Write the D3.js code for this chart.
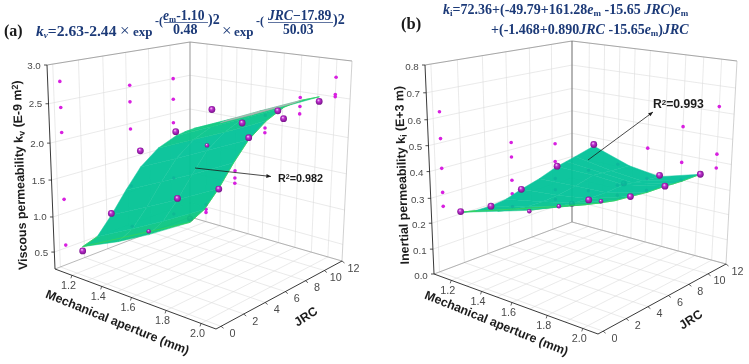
<!DOCTYPE html>
<html>
<head>
<meta charset="utf-8">
<script src="https://cdn.jsdelivr.net/npm/d3@7"></script>
<style>
  html, body { margin: 0; padding: 0; background: #fff; }
  svg { display: block; filter: blur(0.35px); }
  text { font-family: "Liberation Sans", Arial, sans-serif; }
  .serif { font-family: "Liberation Serif", "Times New Roman", serif; font-weight: bold; fill: #1c3a78; }
</style>
</head>
<body>
<div id="chart"></div>
<script>
// measured points: one row per aperture, one column per JRC
const emValues = [1.2, 1.4, 1.6, 1.8, 2.0];
const jrcValues = [0.5, 6.3, 10.3];
const kvValues = [
  [0.54, 0.46, 0.41],
  [1.19, 1.08, 1.00],
  [2.10, 1.92, 1.85],
  [2.42, 2.30, 2.20],
  [2.76, 2.53, 2.50]
];
const kiValues = [
  [0.253, 0.161, 0.130],
  [0.309, 0.215, 0.172],
  [0.400, 0.274, 0.222],
  [0.516, 0.370, 0.300],
  [0.620, 0.430, 0.375]
];

// fitted surfaces
const surfaceEm = [1.2, 1.3, 1.4, 1.5, 1.6, 1.7, 1.8, 1.85, 1.9, 2.0];
const surfaceJrc = [0.5, 3.5, 6.3, 10.3];
const kvSurface = [
  [0.60, 0.48, 0.41, 0.35],
  [0.81, 0.74, 0.68, 0.62],
  [1.17, 1.11, 1.06, 1.01],
  [1.55, 1.51, 1.47, 1.44],
  [1.90, 1.87, 1.85, 1.82],
  [2.18, 2.16, 2.14, 2.13],
  [2.37, 2.36, 2.35, 2.35],
  [2.44, 2.43, 2.42, 2.42],
  [2.50, 2.49, 2.49, 2.48],
  [2.57, 2.56, 2.56, 2.56]
];
const kiSurface = [
  [0.250, 0.205, 0.165, 0.122],
  [0.275, 0.230, 0.190, 0.142],
  [0.310, 0.260, 0.215, 0.165],
  [0.350, 0.295, 0.245, 0.190],
  [0.400, 0.335, 0.280, 0.222],
  [0.455, 0.385, 0.320, 0.258],
  [0.515, 0.440, 0.365, 0.300],
  [0.540, 0.456, 0.380, 0.317],
  [0.565, 0.472, 0.395, 0.335],
  [0.615, 0.505, 0.425, 0.375]
];

// tick labels
const emTicks = [1.2, 1.4, 1.6, 1.8, 2.0];
const emMinor = [1.3, 1.5, 1.7, 1.9];
const jrcTicks = [0, 2, 4, 6, 8, 10, 12];
const kvTicks = [0.5, 1.0, 1.5, 2.0, 2.5, 3.0];
const kiTicks = [0.0, 0.1, 0.2, 0.3, 0.4, 0.5, 0.6, 0.7, 0.8];

const svg = d3.select("#chart").append("svg")
    .attr("width", 749)
    .attr("height", 364);

const defs = svg.append("defs");
const ball = defs.append("radialGradient").attr("id", "ball")
    .attr("cx", "0.5").attr("cy", "0.5").attr("r", "0.6")
    .attr("fx", "0.38").attr("fy", "0.3");
ball.append("stop").attr("offset", "0%").attr("stop-color", "#f8e0fa");
ball.append("stop").attr("offset", "35%").attr("stop-color", "#c030d0");
ball.append("stop").attr("offset", "100%").attr("stop-color", "#640a78");

// the axis box is drawn in perspective so ticks are not evenly spaced
const emFrac = d3.scaleLinear()
    .domain([1.1, 1.2, 1.4, 1.6, 1.8, 2.0, 2.1])
    .range([0, 0.105, 0.29, 0.475, 0.69, 0.907, 1]);
const jrcFrac = d3.scaleLinear()
    .domain([-0.5, 0, 2, 4, 6, 8, 10, 12])
    .range([0, 0.04, 0.22, 0.39, 0.55, 0.71, 0.86, 1]);

const kvColor = d3.scaleLinear()
    .domain([0.4, 0.9, 2.0, 2.5])
    .range(["#0cc67c", "#00c492", "#00c298", "#0cc87e"]);
const kiColor = d3.scaleLinear()
    .domain([0.13, 0.2, 0.3, 0.6])
    .range(["#2ccb50", "#06c484", "#00c298", "#00c298"]);

function drawPanel(p) {
  const g = svg.append("g");

  const project = function(em, jrc, k) {
    const u = emFrac(em), v = jrcFrac(jrc), w = p.zFrac(k);
    const bil = (a, b, c, d, i) =>
      (a[i] * (1 - u) + b[i] * u) * (1 - v) + (c[i] * (1 - u) + d[i] * u) * v;
    const bx = bil(p.L, p.F, p.B, p.R, 0), by = bil(p.L, p.F, p.B, p.R, 1);
    const tx = bil(p.TL, p.TF, p.TB, p.TR, 0), ty = bil(p.TL, p.TF, p.TB, p.TR, 1);
    return [bx + (tx - bx) * w, by + (ty - by) * w];
  };

  const emLo = emFrac.domain()[0], emHi = emFrac.domain()[6];
  const jLo = jrcFrac.domain()[0], jHi = jrcFrac.domain()[7];
  const zLo = p.zFrac.domain()[0], zHi = p.zFrac.domain()[p.zFrac.domain().length - 1];
  const line = d3.line();

  const seg = function(a, b, color, width) {
    g.append("path")
      .attr("d", line([a, b]))
      .attr("fill", "none")
      .attr("stroke", color)
      .attr("stroke-width", width);
  };

  // grid on floor and walls
  const gridColor = "#dcdcdc";
  emTicks.concat(emMinor).forEach(function(em) {
    seg(project(em, jLo, zLo), project(em, jHi, zLo), gridColor, 0.6);
    seg(project(em, jHi, zLo), project(em, jHi, zHi), gridColor, 0.6);
  });
  jrcTicks.forEach(function(j) {
    seg(project(emLo, j, zLo), project(emHi, j, zLo), gridColor, 0.6);
    seg(project(emLo, j, zLo), project(emLo, j, zHi), gridColor, 0.6);
  });
  p.zTicks.forEach(function(z) {
    seg(project(emLo, jLo, z), project(emLo, jHi, z), gridColor, 0.6);
    seg(project(emLo, jHi, z), project(emHi, jHi, z), gridColor, 0.6);
  });

  // box edges
  seg(project(emLo, jLo, zHi), project(emLo, jHi, zHi), "#8a8a8a", 0.7);
  seg(project(emLo, jHi, zHi), project(emHi, jHi, zHi), "#8a8a8a", 0.7);
  seg(project(emLo, jHi, zLo), project(emLo, jHi, zHi), p.backColor, 0.8);
  seg(project(emHi, jHi, zLo), project(emHi, jHi, zHi), "#bdbdbd", 0.7);
  seg(project(emLo, jLo, zLo), project(emLo, jHi, zLo), "#9a9a9a", 0.7);
  seg(project(emLo, jHi, zLo), project(emHi, jHi, zLo), "#9a9a9a", 0.7);

  // points projected on the two walls
  const wallDots = [];
  emValues.forEach(function(em, i) {
    jrcValues.forEach(function(j, n) {
      wallDots.push(project(emLo, j, p.values[i][n]));
      wallDots.push(project(em, jHi, p.values[i][n]));
    });
  });
  g.append("g").selectAll("circle")
    .data(wallDots)
    .enter().append("circle")
      .attr("cx", d => d[0])
      .attr("cy", d => d[1])
      .attr("r", 1.8)
      .attr("fill", "#d820e0");

  const spheres = [];
  emValues.forEach(function(em, i) {
    jrcValues.forEach(function(j, n) {
      spheres.push({i: i, n: n, pos: project(em, j, p.values[i][n])});
    });
  });
  const inList = (list, d) => list.some(c => c[0] === d.i && c[1] === d.n);

  // spheres under the surface only show through faintly
  g.append("g").selectAll("circle")
    .data(spheres.filter(d => inList(p.hidden, d)))
    .enter().append("circle")
      .attr("cx", d => d.pos[0])
      .attr("cy", d => d.pos[1])
      .attr("r", 3)
      .attr("fill", "url(#ball)");

  // surface, far cells first; the grey fold goes over the rest
  const surface = g.append("g").attr("opacity", 0.94);
  const body = surface.append("g"), fold = surface.append("g");
  for (let i = 0; i < surfaceEm.length - 1; i++) {
    for (let n = surfaceJrc.length - 2; n >= 0; n--) {
      const corners = [[i, n], [i + 1, n], [i + 1, n + 1], [i, n + 1]];
      const pts = corners.map(c => project(surfaceEm[c[0]], surfaceJrc[c[1]], p.surface[c[0]][c[1]]));
      const mean = d3.mean(corners, c => p.surface[c[0]][c[1]]);
      const isFold = p.foldBand && mean > p.foldBand[0] && mean < p.foldBand[1] && n > 0;
      const color = isFold ? "#a9b3ae" : p.surfaceColor(Math.min(mean, p.surfaceColor.domain()[3]));
      (isFold ? fold : body).append("polygon")
        .attr("points", pts.map(q => q.join(",")).join(" "))
        .attr("fill", color)
        .attr("stroke", color)
        .attr("stroke-width", 0.5);
    }
  }
  // greener rim along the edge of the mesh
  const last = surfaceEm.length - 1, lastJ = surfaceJrc.length - 1;
  const rim = [];
  surfaceEm.forEach((em, i) => rim.push(project(em, surfaceJrc[lastJ], p.surface[i][lastJ])));
  surfaceEm.forEach((em, i) => rim.unshift(project(em, surfaceJrc[0], p.surface[i][0])));
  surfaceJrc.forEach((j, n) => { if (n > 0 && n < lastJ) rim.unshift(project(surfaceEm[0], j, p.surface[0][n])); });
  body.append("path")
    .attr("d", line(rim.slice(last + 1)))
    .attr("fill", "none")
    .attr("stroke", "#2bd050")
    .attr("stroke-width", 0.8);

  g.append("g").selectAll("circle")
    .data(spheres.filter(d => !inList(p.hidden, d)))
    .enter().append("circle")
      .attr("cx", d => d.pos[0])
      .attr("cy", d => d.pos[1])
      .attr("r", d => inList(p.sunken, d) ? 2.2 : 3.4)
      .attr("fill", "url(#ball)");

  // axes
  seg(project(emLo, jLo, zLo), project(emLo, jLo, zHi), "#222", 0.9);
  seg(project(emLo, jLo, zLo), project(emHi, jLo, zLo), "#222", 0.9);
  seg(project(emHi, jLo, zLo), project(emHi, jHi, zLo), "#222", 0.9);

  const tickText = function(pos, label, size) {
    g.append("text")
      .attr("x", pos[0])
      .attr("y", pos[1])
      .attr("text-anchor", "middle")
      .attr("dominant-baseline", "central")
      .attr("font-size", size)
      .attr("fill", "#4a4a4a")
      .text(label);
  };

  p.zTicks.forEach(function(z) {
    const q = project(emLo, jLo, z);
    seg(q, [q[0] - 3, q[1]], "#222", 0.8);
    tickText([q[0] - p.zLabel[0], q[1] + p.zLabel[1]], d3.format(".1f")(z), 9.8);
  });
  emTicks.forEach(function(em) {
    const q = project(em, jLo, zLo);
    seg(q, [q[0] - 1, q[1] + 3], "#222", 0.7);
    tickText([q[0] - 3.5, q[1] + 9.5], d3.format(".1f")(em), 10.8);
  });
  jrcTicks.forEach(function(j) {
    const q = project(emHi, j, zLo);
    seg(q, [q[0] + 2.5, q[1] + 2], "#222", 0.7);
    tickText([q[0] + 11.5, q[1] + 6.5], j, 10.8);
  });

  // axis titles
  const boldTitle = function(x, y, angle, size) {
    return g.append("text")
      .attr("transform", "translate(" + x + "," + y + ") rotate(" + angle + ")")
      .attr("text-anchor", "middle")
      .attr("font-weight", "bold")
      .attr("font-size", size)
      .attr("fill", "#1c1c1c");
  };
  boldTitle(p.emTitle[0], p.emTitle[1], 22, 12.4).text("Mechanical aperture (mm)");
  boldTitle(p.jrcTitle[0], p.jrcTitle[1], -33, 12.4).text("JRC");
  const zt = boldTitle(p.zTitle[0], p.zTitle[1], -92, 12.4);
  zt.append("tspan").text(p.zName + " k");
  zt.append("tspan").attr("dy", 2).attr("font-size", 9).text(p.zSub);
  zt.append("tspan").attr("dy", -2).text(" (" + p.zUnit);
  if (p.zSup) zt.append("tspan").attr("dy", -3).attr("font-size", 9).text(p.zSup);
  zt.append("tspan").attr("dy", p.zSup ? 3 : 0).text(")");

  // R2 note with its arrow
  const a = p.arrow;
  const ang = Math.atan2(a[3] - a[1], a[2] - a[0]);
  g.append("path")
    .attr("d", line([[a[0], a[1]], [a[2], a[3]]]))
    .attr("stroke", "#1c1c1c")
    .attr("stroke-width", 0.8);
  g.append("path")
    .attr("d", line([
      [a[2], a[3]],
      [a[2] - 5 * Math.cos(ang - 0.4), a[3] - 5 * Math.sin(ang - 0.4)],
      [a[2] - 5 * Math.cos(ang + 0.4), a[3] - 5 * Math.sin(ang + 0.4)]
    ]) + "Z")
    .attr("fill", "#1c1c1c");
  const r2 = g.append("text")
    .attr("x", p.r2Pos[0])
    .attr("y", p.r2Pos[1])
    .attr("font-weight", "bold")
    .attr("font-size", p.r2Size)
    .attr("fill", "#1c1c1c");
  r2.append("tspan").text("R");
  r2.append("tspan").attr("dy", -3).attr("font-size", p.r2Size * 0.65).text("2");
  r2.append("tspan").attr("dy", 3).text("=" + p.r2);
}

drawPanel({
  L: [55, 269], F: [216, 329], B: [190, 217], R: [342, 261],
  TL: [47, 65], TF: [216, 94], TB: [190, 42], TR: [352, 61],
  zFrac: d3.scaleLinear().domain([0.26, 0.5, 1, 1.5, 2, 2.5, 3]).range([0, 0.083, 0.255, 0.436, 0.617, 0.81, 1]),
  zTicks: kvTicks,
  zLabel: [13, 0],
  values: kvValues,
  surface: kvSurface,
  surfaceColor: kvColor,
  foldBand: [2.42, 2.5],
  hidden: [[0, 2]],
  sunken: [[0, 1], [2, 1]],
  backColor: "#8a8a8a",
  emTitle: [116, 326], jrcTitle: [308, 320], zTitle: [24, 175],
  zName: "Viscous permeability", zSub: "v", zUnit: "E-9 m", zSup: "2",
  arrow: [195, 168, 271, 176.5],
  r2Pos: [278, 182], r2Size: 10.8, r2: "0.982"
});

drawPanel({
  L: [434, 274], F: [598, 334], B: [572, 222], R: [726, 264],
  TL: [425, 65], TF: [598, 95], TB: [572, 41], TR: [737, 61],
  zFrac: d3.scaleLinear().domain([0, 0.1, 0.2, 0.3, 0.4, 0.5, 0.6, 0.7, 0.8]).range([0, 0.119, 0.243, 0.362, 0.49, 0.614, 0.738, 0.867, 1]),
  zTicks: kiTicks,
  zLabel: [13, 1],
  values: kiValues,
  surface: kiSurface,
  surfaceColor: kiColor,
  foldBand: null,
  hidden: [[0, 2], [3, 1]],
  sunken: [[0, 1], [1, 1], [1, 2]],
  backColor: "#555",
  emTitle: [495, 327], jrcTitle: [693, 323], zTitle: [406, 175],
  zName: "Inertial permeability", zSub: "i", zUnit: "E+3 m", zSup: "",
  arrow: [588, 160, 653, 112],
  r2Pos: [653, 107.5], r2Size: 12.2, r2: "0.993"
});

// fitted equations above the panels
function eq(x, y, size) {
  return svg.append("text").attr("class", "serif").attr("x", x).attr("y", y).attr("font-size", size);
}
function sub(t, s, size, drop) {
  t.append("tspan").attr("dy", drop).attr("font-size", size).text(s);
  return t;
}

svg.append("text").attr("class", "serif").attr("x", 4).attr("y", 36)
    .attr("font-size", 16).style("fill", "#1a1a1a").text("(a)");

const e1 = eq(36, 35.5, 15.6);
e1.append("tspan").attr("font-style", "italic").text("k");
e1.append("tspan").attr("dy", 2).attr("font-size", 9).attr("font-style", "italic").text("v");
e1.append("tspan").attr("dy", -2).text("=2.63-2.44");
eq(120, 36, 17).style("font-weight", "normal").text("\u00d7");
eq(133, 35.5, 13).text("exp");
eq(155, 25, 12).text("-(");
const e2 = eq(163, 19.5, 13.6);
e2.append("tspan").attr("font-style", "italic").text("e");
e2.append("tspan").attr("dy", 2).attr("font-size", 8.5).text("m");
e2.append("tspan").attr("dy", -2).text("-1.10");
svg.append("line").attr("x1", 164).attr("x2", 208).attr("y1", 22.5).attr("y2", 22.5).attr("stroke", "#1c3a78").attr("stroke-width", 0.7);
eq(173, 33.5, 14).text("0.48");
eq(208, 24, 14).text(")2");
eq(222, 36, 17).style("font-weight", "normal").text("\u00d7");
eq(234, 35.5, 13).text("exp");
eq(256, 25, 12).text("-(");
const e3 = eq(268, 19.5, 13.6);
e3.append("tspan").attr("font-style", "italic").text("JRC");
e3.append("tspan").text("\u221217.89");
svg.append("line").attr("x1", 268).attr("x2", 333).attr("y1", 22.5).attr("y2", 22.5).attr("stroke", "#1c3a78").attr("stroke-width", 0.7);
eq(283, 33.5, 13.6).text("50.03");
eq(333, 24, 14).text(")2");

svg.append("text").attr("class", "serif").attr("x", 401).attr("y", 29)
    .attr("font-size", 16.5).style("fill", "#1a1a1a").text("(b)");

const b1 = eq(443, 13.5, 14);
b1.append("tspan").attr("font-style", "italic").text("k");
b1.append("tspan").attr("dy", 2).attr("font-size", 9).text("i");
b1.append("tspan").attr("dy", -2).text("=72.36+(-49.79+161.28");
b1.append("tspan").attr("font-style", "italic").text("e");
sub(b1, "m", 9, 2);
b1.append("tspan").attr("dy", -2).text(" -15.65 ");
b1.append("tspan").attr("font-style", "italic").text("JRC");
b1.append("tspan").text(")");
b1.append("tspan").attr("font-style", "italic").text("e");
sub(b1, "m", 9, 2);

const b2 = eq(491, 33.5, 14);
b2.append("tspan").text("+(-1.468+0.890");
b2.append("tspan").attr("font-style", "italic").text("JRC");
b2.append("tspan").text(" -15.65");
b2.append("tspan").attr("font-style", "italic").text("e");
sub(b2, "m", 9, 2);
b2.append("tspan").attr("dy", -2).text(")");
b2.append("tspan").attr("font-style", "italic").text("JRC");
</script>
</body>
</html>
